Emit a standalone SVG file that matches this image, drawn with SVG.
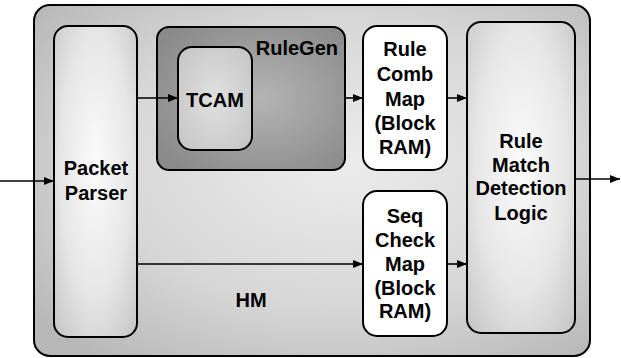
<svg xmlns="http://www.w3.org/2000/svg" width="621" height="358" viewBox="0 0 621 358">
<defs>
<radialGradient id="gOuter" cx="0.55" cy="0.45" r="0.7">
<stop offset="0" stop-color="#ececec"/>
<stop offset="0.6" stop-color="#d6d6d6"/>
<stop offset="1" stop-color="#b8b8b8"/>
</radialGradient>
<radialGradient id="gRuleGen" cx="0.55" cy="0.5" r="0.65">
<stop offset="0" stop-color="#b4b4b4"/>
<stop offset="1" stop-color="#8a8a8a"/>
</radialGradient>
<radialGradient id="gLight" cx="0.5" cy="0.45" r="0.7">
<stop offset="0" stop-color="#fbfbfb"/>
<stop offset="0.6" stop-color="#e6e6e6"/>
<stop offset="1" stop-color="#c8c8c8"/>
</radialGradient>
<radialGradient id="gTcam" cx="0.5" cy="0.5" r="0.7">
<stop offset="0" stop-color="#e0e0e0"/>
<stop offset="1" stop-color="#c4c4c4"/>
</radialGradient>
<marker id="ah" viewBox="0 0 10 8" refX="10" refY="4" markerWidth="10" markerHeight="8" markerUnits="userSpaceOnUse" orient="auto">
<path d="M0,0 L10,4 L0,8 Z" fill="#000"/>
</marker>
</defs>
<style>
.box{stroke:#000;stroke-width:2}
.lbl{font-family:"Liberation Sans",Arial,sans-serif;font-weight:bold;font-size:20px;fill:#000;text-anchor:middle}
.conn{stroke:#000;stroke-width:1.6;fill:none;marker-end:url(#ah)}
</style>
<g id="HM">
<rect class="box" x="34" y="5" width="556" height="351" rx="16" fill="url(#gOuter)"/>
<text class="lbl" x="251" y="307">HM</text>
</g>
<g id="RuleGen">
<rect class="box" x="157" y="27" width="188" height="143" rx="12" fill="url(#gRuleGen)"/>
<text class="lbl" x="338" y="55" style="text-anchor:end">RuleGen</text>
</g>
<g id="TCAM">
<rect class="box" x="178" y="47" width="74" height="103" rx="14" fill="url(#gTcam)"/>
<text class="lbl" x="215" y="107">TCAM</text>
</g>
<g id="PacketParser">
<rect class="box" x="54" y="26" width="83" height="311" rx="14" fill="url(#gLight)"/>
<text class="lbl" x="96" y="175">Packet</text>
<text class="lbl" x="96" y="200">Parser</text>
</g>
<g id="RuleCombMap">
<rect class="box" x="363" y="26" width="84" height="144" rx="14" fill="#ffffff"/>
<text class="lbl" x="405" y="56">Rule</text>
<text class="lbl" x="405" y="81">Comb</text>
<text class="lbl" x="405" y="106">Map</text>
<text class="lbl" x="405" y="130">(Block</text>
<text class="lbl" x="405" y="154">RAM)</text>
</g>
<g id="SeqCheckMap">
<rect class="box" x="363" y="191" width="84" height="145" rx="14" fill="#ffffff"/>
<text class="lbl" x="405" y="223">Seq</text>
<text class="lbl" x="405" y="247">Check</text>
<text class="lbl" x="405" y="271">Map</text>
<text class="lbl" x="405" y="295">(Block</text>
<text class="lbl" x="405" y="318">RAM)</text>
</g>
<g id="RuleMatch">
<rect class="box" x="467" y="22" width="108" height="311" rx="14" fill="url(#gLight)"/>
<text class="lbl" x="521" y="148">Rule</text>
<text class="lbl" x="521" y="172">Match</text>
<text class="lbl" x="521" y="195">Detection</text>
<text class="lbl" x="521" y="220">Logic</text>
</g>
<g id="connectors">
<line class="conn" x1="0" y1="181" x2="54" y2="181"/>
<line class="conn" x1="137" y1="98" x2="178" y2="98"/>
<line class="conn" x1="345" y1="98" x2="363" y2="98"/>
<line class="conn" x1="447" y1="98" x2="467" y2="98"/>
<line class="conn" x1="137" y1="264" x2="363" y2="264"/>
<line class="conn" x1="447" y1="264" x2="467" y2="264"/>
<line class="conn" x1="575" y1="179" x2="620" y2="179"/>
</g>
</svg>
